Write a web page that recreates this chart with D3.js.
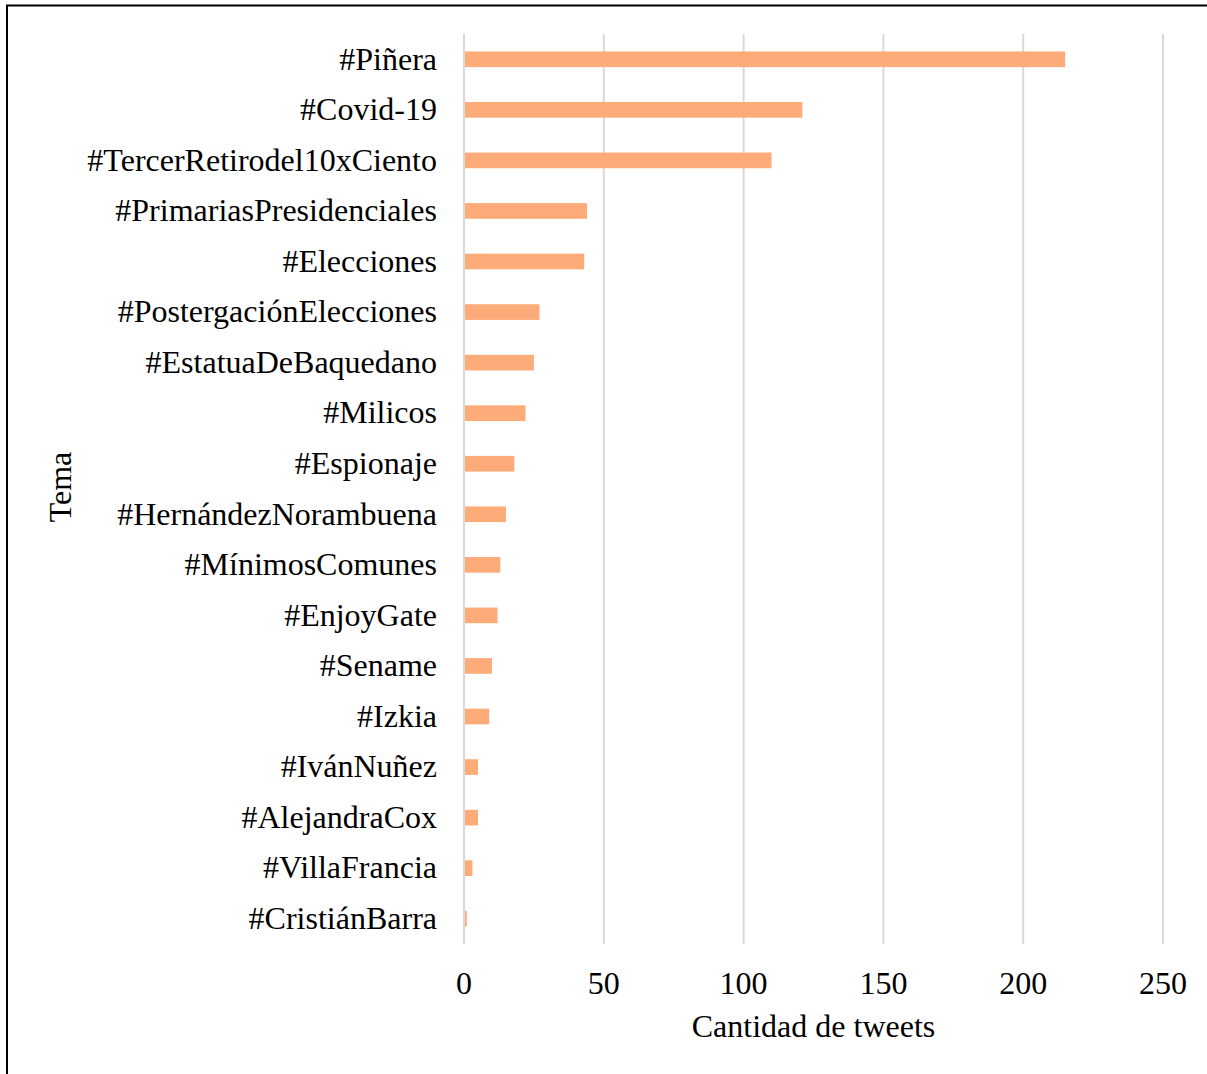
<!DOCTYPE html>
<html>
<head>
<meta charset="utf-8">
<script src="https://cdn.jsdelivr.net/npm/d3@7"></script>
<style>
  html, body { margin: 0; padding: 0; background: #fff; }
  svg { display: block; }
  text { font-family: "Liberation Serif", "Times New Roman", serif; fill: #000; }
</style>
</head>
<body>
<script>
// Hashtags, ordered top to bottom
const temas = [
  "#Piñera", "#Covid-19", "#TercerRetirodel10xCiento", "#PrimariasPresidenciales",
  "#Elecciones", "#PostergaciónElecciones", "#EstatuaDeBaquedano", "#Milicos",
  "#Espionaje", "#HernándezNorambuena", "#MínimosComunes", "#EnjoyGate",
  "#Sename", "#Izkia", "#IvánNuñez", "#AlejandraCox", "#VillaFrancia", "#CristiánBarra"
];
// Number of tweets per hashtag
const cantidades = [215, 121, 110, 44, 43, 27, 25, 22, 18, 15, 13, 12, 10, 9, 5, 5, 3, 1];
// Axis ticks
const ticksX = [0, 50, 100, 150, 200, 250];

const W = 1207, H = 1074;
const FS = 32;
const svg = d3.select("body").append("svg").attr("width", W).attr("height", H);

// outer frame (open on the right and bottom edges of the window)
svg.append("rect")
  .attr("x", 7).attr("y", 5.5)
  .attr("width", W + 20).attr("height", H + 20)
  .attr("fill", "none").attr("stroke", "#000").attr("stroke-width", 2);

const x = d3.scaleLinear().domain([0, 250]).range([464, 1163]);
const y = d3.scaleBand().domain(temas).range([34, 944]).padding(0);
const barH = y.bandwidth() * 0.31;

// vertical gridlines
svg.append("g").selectAll("line").data(ticksX).join("line")
  .attr("x1", d => x(d)).attr("x2", d => x(d))
  .attr("y1", 34).attr("y2", 944)
  .attr("stroke", "#d9d9d9").attr("stroke-width", 2);

// bars
svg.append("g").selectAll("rect").data(temas).join("rect")
  .attr("x", x(0) + 1)
  .attr("y", d => y(d) + (y.bandwidth() - barH) / 2)
  .attr("width", (d, i) => x(cantidades[i]) - x(0) - 1)
  .attr("height", barH)
  .attr("fill", "#fdab78");

// category labels
svg.append("g").selectAll("text").data(temas).join("text")
  .attr("x", 437)
  .attr("y", d => y(d) + y.bandwidth() / 2)
  .attr("dy", "0.32em")
  .attr("text-anchor", "end")
  .attr("font-size", FS)
  .text(d => d);

// x tick labels
svg.append("g").selectAll("text").data(ticksX).join("text")
  .attr("x", d => x(d))
  .attr("y", 994)
  .attr("text-anchor", "middle")
  .attr("font-size", FS)
  .text(d => d);

// axis titles
svg.append("text")
  .attr("x", (x(0) + x(250)) / 2)
  .attr("y", 1037)
  .attr("text-anchor", "middle")
  .attr("font-size", FS)
  .text("Cantidad de tweets");

svg.append("text")
  .attr("transform", "translate(71,487) rotate(-90)")
  .attr("text-anchor", "middle")
  .attr("font-size", FS)
  .text("Tema");
</script>
</body>
</html>
